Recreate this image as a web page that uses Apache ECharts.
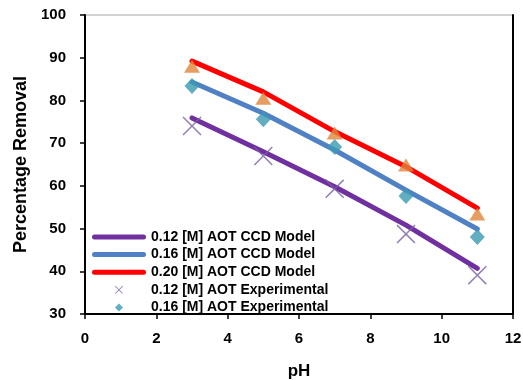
<!DOCTYPE html>
<html>
<head>
<meta charset="utf-8">
<script src="https://cdn.jsdelivr.net/npm/echarts@6/dist/echarts.min.js"></script>
<style>
html,body{margin:0;padding:0;background:#fff;}
#chart{width:523px;height:380px;}
</style>
</head>
<body>
<div id="chart"></div>
<script>
// pH values at which removal was measured / modelled
const phValues = [3, 5, 7, 9, 11];

// CCD model predictions (% removal)
const model012 = [75.9, 68.0, 59.8, 50.8, 40.7];
const model016 = [84.3, 77.0, 68.4, 59.0, 49.9];
const model020 = [89.2, 82.0, 72.7, 64.5, 54.8];

// Experimental results (% removal)
const exp012 = [74.0, 67.0, 59.3, 48.7, 39.1];
const exp016 = [83.4, 75.6, 69.1, 57.6, 48.0];
const exp020 = [88.0, 80.5, 72.4, 64.9, 53.4];

const xTicks = [0, 2, 4, 6, 8, 10, 12];
const yTicks = [30, 40, 50, 60, 70, 80, 90, 100];

const pair = (vals) => phValues.map((x, i) => [x, vals[i]]);

const FONT = 'Liberation Sans';
const crossPath = 'path://M1.1,0L10,8.9L18.9,0L20,1.1L11.1,10L20,18.9L18.9,20L10,11.1L1.1,20L0,18.9L8.9,10L0,1.1Z';
// legend glyphs: a rounded bar for the model lines, small markers for the data
const barIcon = 'path://M2.5,0H51.5A2.5,2.5,0,0,1,51.5,5H2.5A2.5,2.5,0,0,1,2.5,0Z';
const crossIcon = 'path://M1.5,0L10,8.5L18.5,0L20,1.5L11.5,10L20,18.5L18.5,20L10,11.5L1.5,20L0,18.5L8.5,10L0,1.5Z';
const diamondIcon = 'path://M5,0L10,5L5,10L0,5Z';

const lineSeries = (name, vals, color) => ({
  name, type: 'line', data: pair(vals), symbol: 'none', z: 2,
  lineStyle: { color, width: 5, cap: 'round', join: 'round' },
  itemStyle: { color }
});

const chart = echarts.init(document.getElementById('chart'), null, { renderer: 'canvas' });
chart.setOption({
  animation: false,
  backgroundColor: '#ffffff',
  grid: {
    left: 85, right: 10, top: 15, bottom: 66,
    outerBoundsMode: 'none', containLabel: false,
    show: true, borderColor: '#a6a6a6', borderWidth: 1
  },
  xAxis: {
    type: 'value', min: xTicks[0], max: xTicks[xTicks.length - 1], interval: 2,
    name: 'pH', nameLocation: 'middle', nameGap: 49,
    nameTextStyle: { fontFamily: FONT, fontWeight: 'bold', fontSize: 17, color: '#000' },
    axisLine: { lineStyle: { color: '#000', width: 2 } },
    axisTick: { length: 5, lineStyle: { color: '#000', width: 1.5 } },
    axisLabel: { fontFamily: FONT, fontWeight: 'bold', fontSize: 15, color: '#000', margin: 17 },
    splitLine: { show: false }
  },
  yAxis: [{
    type: 'value', min: yTicks[0], max: yTicks[yTicks.length - 1], interval: 10,
    name: 'Percentage Removal', nameLocation: 'middle', nameGap: 54, nameRotate: 90,
    nameTextStyle: { fontFamily: FONT, fontWeight: 'bold', fontSize: 18, color: '#000' },
    axisLine: { show: true, lineStyle: { color: '#000', width: 2 } },
    axisTick: { show: true, length: 5, lineStyle: { color: '#000', width: 1.5 } },
    axisLabel: { fontFamily: FONT, fontWeight: 'bold', fontSize: 15, color: '#000', margin: 19 },
    splitLine: { show: false }
  }, {
    type: 'value', position: 'right', min: yTicks[0], max: yTicks[yTicks.length - 1], interval: 10,
    axisLine: { show: true, lineStyle: { color: '#000', width: 2 } },
    axisTick: { show: false }, axisLabel: { show: false }, splitLine: { show: false }
  }],
  legend: {
    orient: 'vertical', left: 92, top: 230, padding: 0,
    itemWidth: 54, itemHeight: 8, itemGap: 3.6,
    textStyle: { fontFamily: FONT, fontWeight: 'bold', fontSize: 14, color: '#000', lineHeight: 14 },
    data: [
      { name: '0.12 [M] AOT CCD Model', icon: barIcon },
      { name: '0.16 [M] AOT CCD Model', icon: barIcon },
      { name: '0.20 [M] AOT CCD Model', icon: barIcon },
      { name: '0.12 [M] AOT Experimental', icon: crossIcon },
      { name: '0.16 [M] AOT Experimental', icon: diamondIcon }
    ]
  },
  series: [
    lineSeries('0.12 [M] AOT CCD Model', model012, '#7030a0'),
    lineSeries('0.16 [M] AOT CCD Model', model016, '#4f81c4'),
    lineSeries('0.20 [M] AOT CCD Model', model020, '#ff0000'),
    {
      name: '0.12 [M] AOT Experimental', type: 'scatter', data: pair(exp012), z: 3,
      symbol: crossPath, symbolSize: 19,
      itemStyle: { color: '#7b5ea0' }
    },
    {
      name: '0.16 [M] AOT Experimental', type: 'scatter', data: pair(exp016), z: 3,
      symbol: 'diamond', symbolSize: [15, 16],
      itemStyle: { color: '#3b9ab2' }
    },
    {
      name: '0.20 [M] AOT Experimental', type: 'scatter', data: pair(exp020), z: 3,
      symbol: 'triangle', symbolSize: [16, 13],
      itemStyle: { color: '#e0843b' }
    }
  ]
});
</script>
</body>
</html>
